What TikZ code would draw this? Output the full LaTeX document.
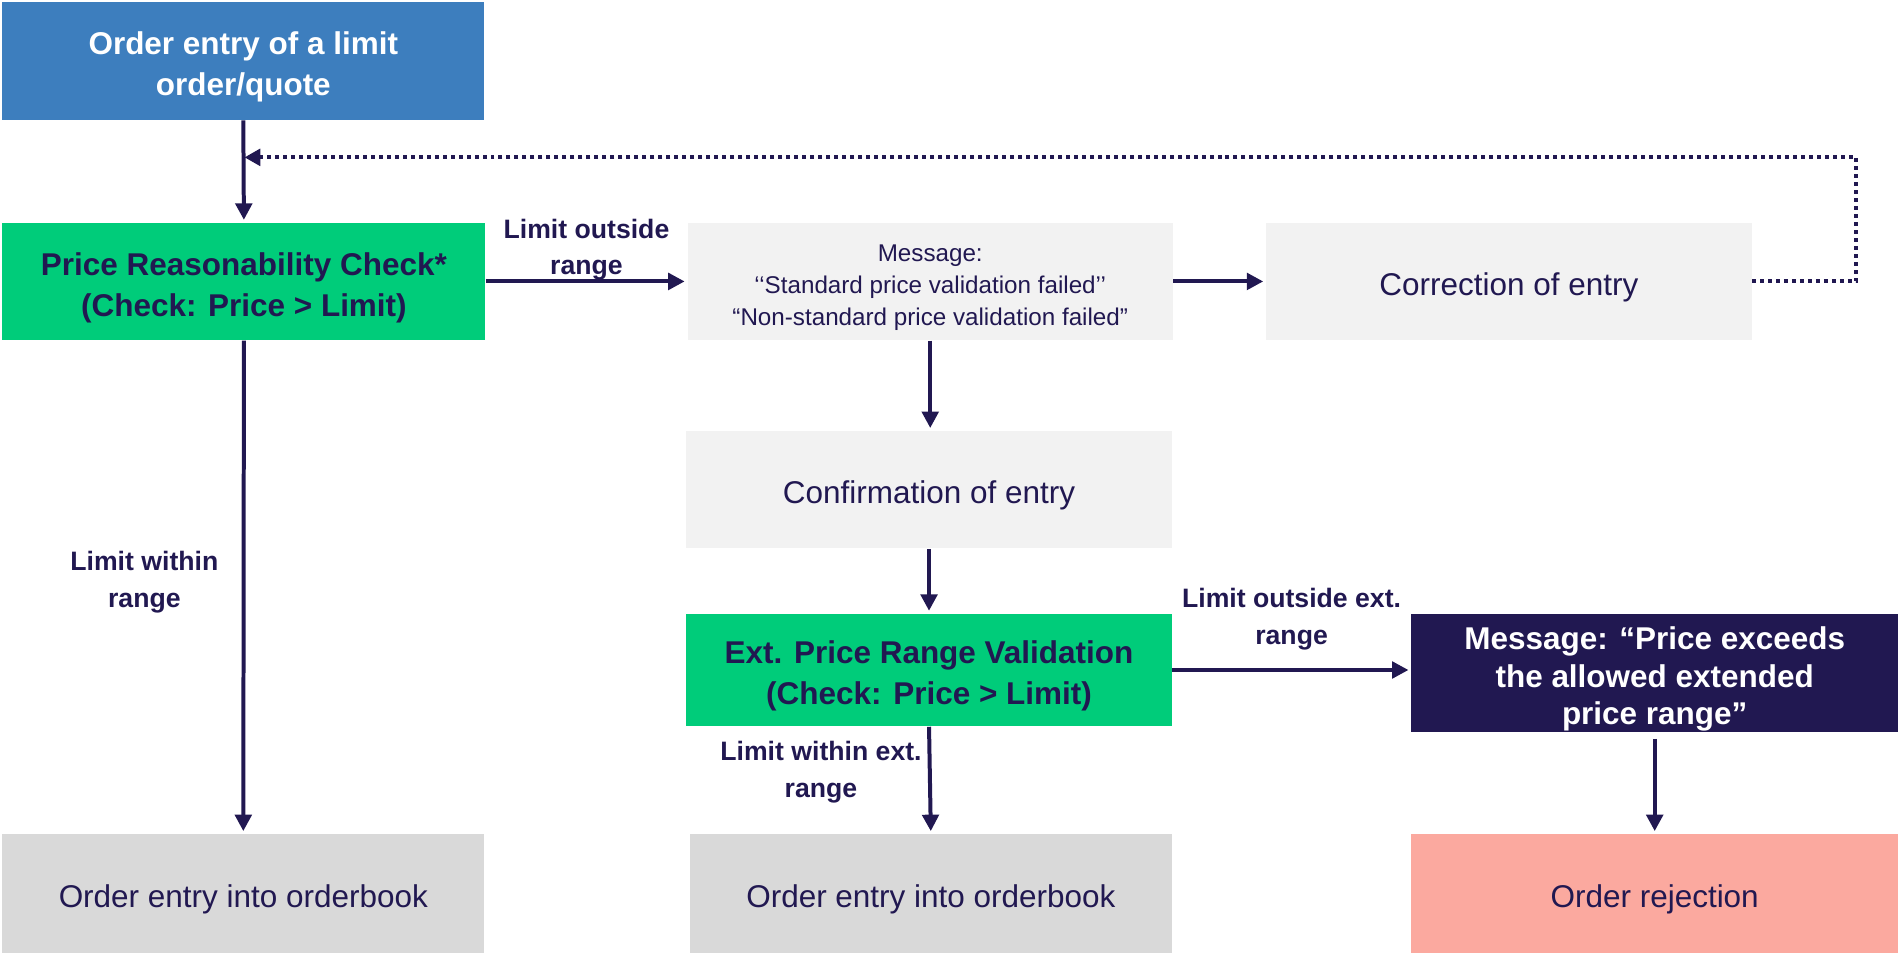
\documentclass[tikz,border=0pt]{standalone}
\usepackage{fontspec}
\setmainfont{Liberation Sans}
\usetikzlibrary{arrows.meta,calc}
\definecolor{navy}{HTML}{211851}
\definecolor{bluebox}{HTML}{3D7EBE}
\definecolor{greenbox}{HTML}{00CC7A}
\definecolor{lightbox}{HTML}{F2F2F2}
\definecolor{graybox}{HTML}{D9D9D9}
\definecolor{pinkbox}{HTML}{FBA99F}
\begin{document}
\begin{tikzpicture}[x=0.5pt,y=-0.5pt,
  drop/.style={execute at begin node={\rule{0pt}{#1}}},
  box/.style={rectangle, inner sep=0pt, align=center, text=navy, font=\fontsize{13}{17}\selectfont, drop=14.4pt},
  boldbox/.style={box, font=\fontsize{13}{17}\selectfont\bfseries, drop=31.5pt},
  smallbox/.style={box, font=\fontsize{10}{13.25}\selectfont, drop=38.8pt},
  wide/.style={minimum width=200.5pt, minimum height=48.5pt},
  lbl/.style={align=center, text=navy, inner sep=0pt, font=\fontsize{11}{15}\selectfont\bfseries},
  arr/.style={draw=navy, line width=1.65pt, -{Triangle[length=6.8pt,width=6.8pt]}, shorten >=1pt},
  dotarr/.style={draw=navy, line width=1.65pt, dash pattern=on 1.65pt off 1.65pt, -{Triangle[length=6.5pt,width=6.8pt]}}
]
\useasboundingbox (0,0) rectangle (1568,788);

\node[boldbox, fill=bluebox, text=white, minimum width=199pt, minimum height=48.5pt] (top) at (201,50.5) {Order entry of a limit\\order/quote};
\node[boldbox, fill=greenbox, minimum width=199.5pt, minimum height=48.5pt] (prc) at (201.5,232.5) {Price Reasonability Check*\\(Check: Price > Limit)};
\node[smallbox, fill=lightbox, wide] (msg) at (768.5,232.5) {Message:\\‘‘Standard price validation failed’’\\“Non-standard price validation failed”};
\node[box, fill=lightbox, wide] (corr) at (1246.5,232.5) {Correction of entry};
\node[box, fill=lightbox, wide] (conf) at (767.5,404.5) {Confirmation of entry};
\node[boldbox, fill=greenbox, minimum width=200.5pt, minimum height=46.5pt] (ext) at (767.5,553.5) {Ext. Price Range Validation\\(Check: Price > Limit)};
\node[boldbox, fill=navy, text=white, minimum width=201pt, minimum height=49pt, font=\fontsize{13}{15.5}\selectfont\bfseries, drop=45.5pt] (dmsg) at (1367,556) {Message: “Price exceeds\\the allowed extended\\price range”};
\node[box, fill=graybox, minimum width=199pt, minimum height=49pt] (ob1) at (201,738) {Order entry into orderbook};
\node[box, fill=graybox, minimum width=199pt, minimum height=49pt] (ob2) at (769,738) {Order entry into orderbook};
\node[box, fill=pinkbox, minimum width=201pt, minimum height=49pt] (rej) at (1367,738) {Order rejection};

\coordinate (join) at (202,130);

\draw[arr] (top.south) -- (prc.north);
\draw[arr] (prc.east) -- node[lbl, midway, yshift=13pt] {Limit outside\\range} (msg.west);
\draw[arr] (msg.east) -- (corr.west);
\draw[arr] (prc.south) -- node[lbl, midway, xshift=-41pt, yshift=2pt] {Limit within\\range} (ob1.north);
\draw[arr] (msg.south) -- (msg.south |- conf.north);
\draw[arr] (conf.south) -- (ext.north);
\draw[arr] (ext.south) -- node[lbl, midway, xshift=-45pt, yshift=3.25pt] {Limit within ext.\\range} (ob2.north);
\draw[arr] (ext.east) -- node[lbl, midway, yshift=21pt] {Limit outside ext.\\range} (ext.east -| dmsg.west);
\draw[arr, shorten <=2.5pt] (dmsg.south) -- (rej.north);
\draw[dotarr] (corr.east) -- ++(86,0) |- (join);
\end{tikzpicture}
\end{document}
